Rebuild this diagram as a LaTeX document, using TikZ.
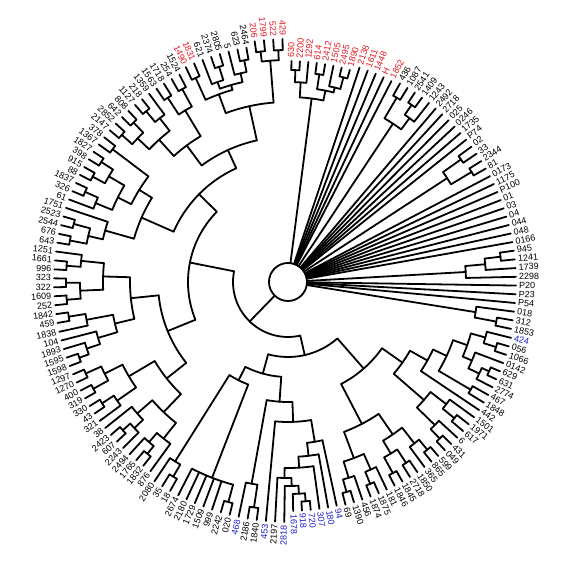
\documentclass[tikz,border=0pt]{standalone}
\usepackage{fontspec}
\setmainfont{Liberation Sans}
\definecolor{tr}{RGB}{228,26,34}
\definecolor{tb}{RGB}{30,30,205}
\tikzset{br/.style={line width=1.8pt, line cap=round, black},
 lab/.style={inner sep=0pt, font=\fontsize{9}{10}\selectfont}}
\def\T{91.3}\def\D{2.195122}
\newcommand\lf[5]{%
  \pgfmathsetmacro\qL{\T-(#1-1)*\D}%
  \draw[br] (\qL:#2) -- (\qL:#3);%
  \pgfmathsetmacro\qN{mod(\qL+720,360)}%
  \pgfmathsetmacro\qR{#3+3}%
  \pgfmathsetmacro\qS{\qN-180}%
  \ifdim\qN pt<90pt \node[lab,text=#5,anchor=mid west,rotate=\qN] (n#1) at (\qL:\qR) {#4};%
  \else\ifdim\qN pt>270pt \node[lab,text=#5,anchor=mid west,rotate=\qN] (n#1) at (\qL:\qR) {#4};%
  \else \node[lab,text=#5,anchor=mid east,rotate=\qS] (n#1) at (\qL:\qR) {#4};\fi\fi}
\newcommand\cl[4]{%
  \pgfmathsetmacro\qA{\T-(#1-1)*\D}%
  \pgfmathsetmacro\qB{\T-(#2-1)*\D}%
  \pgfmathsetmacro\qM{(\qA+\qB)/2}%
  \draw[br] (\qA:#3) arc[start angle=\qA, end angle=\qB, radius=#3];%
  \draw[br] (\qM:#4) -- (\qM:#3);}
\begin{document}
\begin{tikzpicture}[x=1pt,y=1pt]
\useasboundingbox (0,0) rectangle (570,564);
\begin{scope}[shift={(288,282)}]
\draw[br] (0,0) circle[radius=19];
% ---- top red clade T1
\cl{2}{3}{212}{200}\cl{2.5}{4}{200}{185}\cl{5}{6}{210}{195}\cl{8}{9}{212}{200}
\cl{7}{8.5}{200}{195}\cl{5.5}{7.75}{195}{185}\cl{3.25}{6.625}{185}{19}
\lf{2}{212}{221}{630}{tr}\lf{3}{212}{221}{2200}{tr}\lf{4}{200}{221}{1292}{tr}
\lf{5}{210}{221}{614}{tr}\lf{6}{210}{221}{2412}{tr}\lf{7}{200}{221}{1505}{tr}
\lf{8}{212}{221}{2495}{tr}\lf{9}{212}{221}{1890}{tr}
\lf{10}{19}{226}{2138}{tr}\lf{11}{19}{226}{1611}{tr}\lf{12}{19}{226}{1448}{tr}
\lf{13}{19}{226}{H}{tr}\lf{14}{19}{226}{1852}{tr}
% ---- Q
\cl{15}{16}{214}{190}\cl{17}{18}{216}{204}\cl{17.5}{19}{204}{190}\cl{15.5}{18.25}{190}{19}
\lf{15}{214}{228}{436}{black}\lf{16}{214}{228}{1087}{black}\lf{17}{216}{228}{2541}{black}
\lf{18}{216}{228}{1409}{black}\lf{19}{204}{228}{1243}{black}
\lf{20}{19}{228}{2492}{black}\lf{21}{19}{228}{2718}{black}\lf{22}{19}{228}{025}{black}
\lf{23}{19}{228}{0246}{black}\lf{24}{19}{228}{1735}{black}\lf{25}{19}{228}{P74}{black}
% ---- 26-29
\cl{26}{27}{212}{190}\cl{28}{29}{214}{190}\cl{26.5}{28.5}{190}{19}
\lf{26}{212}{228}{02}{black}\lf{27}{212}{228}{33}{black}\lf{28}{214}{228}{2344}{black}\lf{29}{214}{228}{81}{black}
\lf{30}{19}{228}{0173}{black}\lf{31}{19}{228}{1175}{black}\lf{32}{19}{228}{P100}{black}
\lf{33}{19}{228}{01}{black}\lf{34}{19}{228}{03}{black}\lf{35}{19}{228}{04}{black}
\lf{36}{19}{228}{044}{black}\lf{37}{19}{228}{048}{black}\lf{38}{19}{228}{0166}{black}
% ---- 39-42
\cl{39}{40}{214}{198}\cl{39.5}{41}{198}{178}\cl{40.25}{42}{178}{19}
\lf{39}{214}{228}{945}{black}\lf{40}{214}{228}{1241}{black}\lf{41}{198}{228}{1739}{black}\lf{42}{178}{228}{2298}{black}
\lf{43}{19}{228}{P20}{black}\lf{44}{19}{228}{P23}{black}\lf{45}{19}{228}{P54}{black}
% ---- 46-48
\cl{47}{48}{212}{190}\cl{46}{47.5}{190}{19}
\lf{46}{190}{228}{018}{black}\lf{47}{212}{228}{312}{black}\lf{48}{212}{228}{1853}{black}
% ---- bottom right BR1
\cl{50}{51}{218}{205}\cl{49}{50.5}{205}{190}
\cl{53}{54}{220}{212}\cl{53.5}{55}{212}{200}\cl{52}{54.25}{200}{190}
\cl{49.75}{53.125}{190}{175}\cl{56}{57}{212}{175}\cl{51.4375}{56.5}{175}{160}
\cl{53.96875}{58}{160}{140}
\cl{60}{61}{215}{200}\cl{59}{60.5}{200}{180}\cl{63}{64}{218}{205}\cl{62}{63.5}{205}{180}
\cl{59.75}{62.75}{180}{140}\cl{55.984375}{61.25}{140}{115}
\cl{65}{66}{218}{205}\cl{65.5}{67}{205}{185}
\cl{68}{69}{216}{200}\cl{70}{71}{218}{200}\cl{68.5}{70.5}{200}{185}
\cl{66.25}{69.5}{185}{160}
\cl{73}{74}{218}{205}\cl{72}{73.5}{205}{188}\cl{76}{77}{218}{205}\cl{75}{76.5}{205}{188}
\cl{72.75}{75.75}{188}{160}\cl{67.875}{74.25}{160}{115}
\cl{58.6171875}{71.0625}{115}{75}
\lf{49}{205}{230}{424}{tb}\lf{50}{218}{230}{056}{black}\lf{51}{218}{230}{1066}{black}
\lf{52}{200}{230}{0142}{black}\lf{53}{220}{230}{629}{black}\lf{54}{220}{230}{631}{black}
\lf{55}{212}{230}{2774}{black}\lf{56}{212}{230}{467}{black}\lf{57}{212}{230}{1848}{black}
\lf{58}{160}{230}{442}{black}\lf{59}{200}{230}{1501}{black}\lf{60}{215}{230}{1971}{black}
\lf{61}{215}{230}{617}{black}\lf{62}{205}{230}{6}{black}\lf{63}{218}{230}{431}{black}
\lf{64}{218}{230}{049}{black}\lf{65}{218}{230}{599}{black}\lf{66}{218}{230}{865}{black}
\lf{67}{205}{230}{365}{black}\lf{68}{216}{230}{1850}{black}\lf{69}{216}{230}{2718}{black}
\lf{70}{218}{230}{1845}{black}\lf{71}{218}{230}{1846}{black}\lf{72}{205}{230}{181}{black}
\lf{73}{218}{230}{1875}{black}\lf{74}{218}{230}{1874}{black}\lf{75}{205}{230}{456}{black}
\lf{76}{218}{230}{1390}{black}\lf{77}{218}{230}{69}{black}
% ---- blue group
\cl{81}{82}{220}{212}\cl{81.5}{83}{212}{204}\cl{82.25}{84}{204}{196}\cl{83.125}{85}{196}{186}
\cl{80}{84.0625}{186}{175}\cl{79}{82.03125}{175}{162}\cl{78}{80.515625}{162}{140}
\cl{79.2578125}{86}{140}{120}\cl{87}{88}{228}{205}\cl{87.5}{89}{205}{120}
\cl{82.62890625}{88.25}{120}{95}
\lf{78}{162}{229}{94}{tb}\lf{79}{175}{229}{180}{tb}\lf{80}{186}{229}{307}{tb}
\lf{81}{220}{229}{720}{tb}\lf{82}{220}{229}{918}{tb}\lf{83}{212}{229}{1678}{tb}
\lf{84}{204}{240}{2818}{tb}\lf{85}{196}{240}{2197}{black}\lf{86}{140}{240}{453}{tb}
\lf{87}{228}{240}{1840}{black}\lf{88}{228}{240}{2186}{black}\lf{89}{205}{240}{468}{tb}
% ---- comb and 18/35
\cl{90}{91}{228}{210}\cl{90.5}{96}{210}{110}\cl{97}{98}{226}{212}\cl{97.5}{99}{212}{110}
\cl{93.25}{98.25}{110}{95}\cl{85.439453125}{95.75}{95}{75}
\cl{64.83984375}{90.5947265625}{75}{55}
\lf{90}{228}{240}{020}{black}\lf{91}{228}{240}{2242}{black}\lf{92}{210}{240}{999}{black}
\lf{93}{210}{240}{1509}{black}\lf{94}{210}{240}{1729}{black}\lf{95}{210}{240}{2180}{black}
\lf{96}{210}{240}{2674}{black}\lf{97}{226}{240}{18}{black}\lf{98}{226}{240}{35}{black}
\lf{99}{212}{240}{2080}{black}
% ---- left
\cl{101}{102}{222}{212}\cl{101.5}{103}{212}{200}\cl{100}{102.25}{200}{180}
\cl{105}{106}{222}{212}\cl{104}{105.5}{212}{200}\cl{104.75}{107}{200}{180}
\cl{101.125}{105.875}{180}{155}
\cl{109}{110}{222}{208}\cl{108}{109.5}{208}{185}
\cl{111}{112}{222}{205}\cl{113}{114}{222}{205}\cl{111.5}{113.5}{205}{185}
\cl{108.75}{112.5}{185}{155}\cl{103.5}{110.625}{155}{130}
\cl{115}{116}{222}{212}\cl{115.5}{117}{212}{198}\cl{116.25}{118}{198}{178}
\cl{120}{121}{222}{205}\cl{119}{120.5}{205}{178}\cl{117.125}{119.75}{178}{158}
\cl{122}{123}{222}{208}\cl{124}{125}{222}{208}\cl{122.5}{124.5}{208}{185}
\cl{126}{127}{222}{208}\cl{126.5}{128}{208}{185}\cl{123.5}{127.25}{185}{158}
\cl{118.4375}{125.375}{158}{130}\cl{107.0625}{121.90625}{130}{100}
\cl{129}{130}{222}{205}\cl{131}{132}{222}{205}\cl{129.5}{131.5}{205}{190}\cl{130.5}{133}{190}{160}
\cl{135}{136}{222}{208}\cl{134}{135.5}{208}{190}
\cl{137}{138}{222}{208}\cl{139}{140}{222}{208}\cl{137.5}{139.5}{208}{190}
\cl{134.75}{138.5}{190}{175}\cl{141}{142}{220}{175}\cl{136.625}{141.5}{175}{160}
\cl{131.75}{139.0625}{160}{125}
\cl{143}{144}{222}{208}\cl{145}{146}{222}{208}\cl{143.5}{145.5}{208}{192}
\cl{147}{148}{222}{208}\cl{147.5}{149}{208}{192}\cl{144.5}{148.25}{192}{170}
\cl{150}{151}{220}{200}\cl{152}{153}{220}{200}\cl{150.5}{152.5}{200}{170}
\cl{146.375}{151.5}{170}{145}
\cl{154}{155}{224}{200}\cl{157}{158}{226}{212}\cl{156}{157.5}{212}{205}
\cl{160}{161}{226}{214}\cl{159}{160.5}{214}{205}\cl{156.75}{159.75}{205}{200}
\cl{154.5}{158.25}{200}{180}
\cl{162}{163}{232}{222}\cl{164}{165}{232}{222}\cl{162.5}{164.5}{222}{180}
\cl{156.375}{163.5}{180}{145}\cl{148.9375}{159.9375}{145}{125}
\cl{135.40625}{154.4375}{125}{100}\cl{114.484375}{144.921875}{100}{55}
\cl{77.71728515625}{129.703125}{55}{19}
\lf{100}{200}{234}{876}{black}\lf{101}{222}{234}{1832}{black}\lf{102}{222}{234}{1765}{black}
\lf{103}{212}{234}{2494}{black}\lf{104}{212}{234}{2243}{black}\lf{105}{222}{234}{607}{black}
\lf{106}{222}{234}{2423}{black}\lf{107}{200}{234}{38}{black}\lf{108}{208}{234}{321}{black}
\lf{109}{222}{234}{43}{black}\lf{110}{222}{234}{330}{black}\lf{111}{222}{234}{319}{black}
\lf{112}{222}{234}{400}{black}\lf{113}{222}{234}{1270}{black}\lf{114}{222}{234}{1297}{black}
\lf{115}{222}{234}{1598}{black}\lf{116}{222}{234}{1595}{black}\lf{117}{212}{234}{1893}{black}
\lf{118}{198}{234}{104}{black}\lf{119}{205}{234}{1838}{black}\lf{120}{222}{234}{459}{black}
\lf{121}{222}{234}{1842}{black}\lf{122}{222}{234}{252}{black}\lf{123}{222}{234}{1609}{black}
\lf{124}{222}{234}{322}{black}\lf{125}{222}{234}{323}{black}\lf{126}{222}{234}{996}{black}
\lf{127}{222}{234}{1661}{black}\lf{128}{208}{234}{1251}{black}\lf{129}{222}{234}{643}{black}
\lf{130}{222}{234}{676}{black}\lf{131}{222}{234}{2544}{black}\lf{132}{222}{234}{2523}{black}
\lf{133}{190}{234}{1751}{black}\lf{134}{208}{234}{61}{black}\lf{135}{222}{234}{326}{black}
\lf{136}{222}{234}{1837}{black}\lf{137}{222}{234}{88}{black}\lf{138}{222}{234}{915}{black}
\lf{139}{222}{234}{398}{black}\lf{140}{222}{234}{1827}{black}\lf{141}{220}{234}{1367}{black}
\lf{142}{220}{234}{378}{black}\lf{143}{222}{234}{2147}{black}\lf{144}{222}{234}{2852}{black}
\lf{145}{222}{234}{642}{black}\lf{146}{222}{234}{808}{black}\lf{147}{222}{234}{1127}{black}
\lf{148}{222}{234}{218}{black}\lf{149}{208}{234}{1359}{black}\lf{150}{220}{234}{1563}{black}
\lf{151}{220}{234}{1718}{black}\lf{152}{220}{234}{254}{black}\lf{153}{220}{234}{1524}{black}
\lf{154}{224}{238}{1490}{tr}\lf{155}{224}{238}{1831}{tr}\lf{156}{212}{238}{621}{black}
\lf{157}{226}{238}{2374}{black}\lf{158}{226}{238}{2805}{black}\lf{159}{214}{238}{5}{black}
\lf{160}{226}{238}{623}{black}\lf{161}{226}{238}{2464}{black}
\lf{162}{232}{243}{206}{tr}\lf{163}{232}{243}{1799}{tr}\lf{164}{232}{243}{522}{tr}
\lf{165}{232}{243}{429}{tr}
\end{scope}
\end{tikzpicture}
\end{document}
